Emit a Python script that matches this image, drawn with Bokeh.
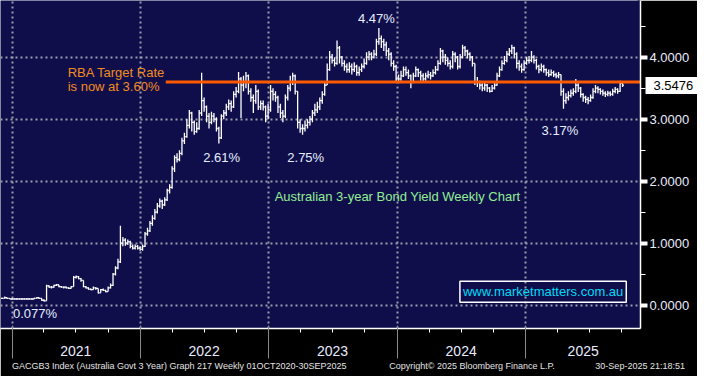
import pandas as pd
from bokeh.plotting import figure
from bokeh.models import (Range1d, FixedTicker, DatetimeAxis, LinearAxis, Grid, Label,
                          NumeralTickFormatter, ColumnDataSource, DatetimeTickFormatter,
                          CustomJSTickFormatter)
from bokeh.embed import file_html
from bokeh.resources import INLINE

# ---------------- data (weekly bars, GACGB3 Index) ----------------
first_week = "2020-12-04"
close = [
    0.11, 0.12, 0.11, 0.10, 0.10, 0.10, 0.10, 0.10, 0.10, 0.10,
    0.10, 0.10, 0.10, 0.11, 0.12, 0.11, 0.08, 0.07, 0.31, 0.29,
    0.29, 0.32, 0.33, 0.30, 0.29, 0.29, 0.28, 0.27, 0.30, 0.45,
    0.46, 0.43, 0.40, 0.30, 0.28, 0.26, 0.25, 0.28, 0.27, 0.20,
    0.25, 0.24, 0.22, 0.28, 0.32, 0.50, 0.60, 0.70, 1.00, 1.05,
    1.00, 1.02, 0.95, 0.92, 0.95, 0.92, 0.90, 0.95, 1.15, 1.20,
    1.32, 1.40, 1.50, 1.60, 1.68, 1.62, 1.70, 1.85, 1.90, 2.20,
    2.38, 2.35, 2.45, 2.65, 2.72, 2.90, 3.10, 2.95, 2.80, 2.85,
    3.10, 3.30, 3.20, 3.05, 2.95, 3.05, 3.00, 2.85, 2.70, 3.05,
    3.10, 3.20, 3.25, 3.20, 3.40, 3.45, 3.65, 3.55, 3.60, 3.70,
    3.45, 3.35, 3.30, 3.45, 3.20, 3.25, 3.20, 3.05, 3.15, 3.45,
    3.40, 3.35, 3.20, 3.10, 3.05, 3.35, 3.50, 3.60, 3.70, 3.45,
    2.95, 2.85, 2.85, 2.90, 2.95, 3.00, 3.10, 3.15, 3.20, 3.30,
    3.40, 3.55, 3.80, 4.00, 3.95, 3.90, 4.15, 4.00, 3.90, 3.85,
    3.80, 3.85, 3.80, 3.85, 3.75, 3.80, 3.85, 3.90, 4.00, 4.05,
    4.00, 4.05, 4.25, 4.30, 4.25, 4.20, 4.10, 4.05, 3.90, 3.85,
    3.65, 3.65, 3.70, 3.80, 3.75, 3.70, 3.60, 3.70, 3.80, 3.75,
    3.70, 3.65, 3.70, 3.72, 3.70, 3.75, 3.80, 3.90, 4.10, 4.00,
    3.95, 3.90, 3.85, 4.05, 4.00, 3.85, 4.00, 4.15, 4.10, 4.05,
    4.00, 3.90, 3.60, 3.60, 3.55, 3.50, 3.55, 3.50, 3.45, 3.50,
    3.55, 3.70, 3.80, 3.90, 3.95, 4.05, 4.10, 4.15, 4.05, 3.90,
    3.85, 3.80, 3.90, 3.95, 3.95, 4.00, 3.95, 3.85, 3.80, 3.85,
    3.80, 3.75, 3.72, 3.75, 3.72, 3.70, 3.72, 3.45, 3.30, 3.35,
    3.38, 3.42, 3.45, 3.55, 3.50, 3.40, 3.35, 3.32, 3.30, 3.35,
    3.45, 3.50, 3.48, 3.45, 3.42, 3.40, 3.42, 3.40, 3.45, 3.48,
    3.45, 3.58, 3.5476]
high = [
    0.12, 0.14, 0.12, 0.11, 0.11, 0.11, 0.11, 0.11, 0.11, 0.11,
    0.11, 0.11, 0.11, 0.12, 0.13, 0.12, 0.11, 0.09, 0.33, 0.32,
    0.31, 0.33, 0.34, 0.33, 0.31, 0.30, 0.30, 0.29, 0.31, 0.47,
    0.48, 0.47, 0.44, 0.40, 0.31, 0.29, 0.27, 0.30, 0.29, 0.27,
    0.26, 0.27, 0.25, 0.30, 0.35, 0.52, 0.63, 0.75, 1.28, 1.10,
    1.08, 1.06, 1.04, 0.98, 0.98, 0.97, 0.95, 0.98, 1.18, 1.25,
    1.36, 1.45, 1.55, 1.65, 1.72, 1.70, 1.74, 1.88, 1.95, 2.24,
    2.42, 2.45, 2.50, 2.70, 2.78, 3.00, 3.15, 3.12, 2.98, 2.95,
    3.15, 3.75, 3.35, 3.22, 3.10, 3.12, 3.10, 3.03, 2.88, 3.08,
    3.15, 3.25, 3.32, 3.30, 3.45, 3.52, 3.76, 3.68, 3.70, 3.76,
    3.72, 3.50, 3.40, 3.55, 3.48, 3.30, 3.30, 3.22, 3.25, 3.55,
    3.50, 3.45, 3.38, 3.25, 3.15, 3.40, 3.55, 3.70, 3.75, 3.72,
    3.45, 3.00, 2.92, 2.98, 3.00, 3.05, 3.15, 3.25, 3.28, 3.35,
    3.45, 3.60, 3.90, 4.10, 4.05, 4.00, 4.27, 4.18, 4.02, 3.95,
    3.90, 3.92, 3.90, 3.92, 3.88, 3.85, 3.90, 3.98, 4.08, 4.10,
    4.08, 4.12, 4.30, 4.47, 4.35, 4.30, 4.25, 4.15, 4.08, 3.95,
    3.88, 3.72, 3.78, 3.85, 3.85, 3.80, 3.72, 3.75, 3.85, 3.82,
    3.78, 3.74, 3.75, 3.78, 3.76, 3.80, 3.86, 3.95, 4.15, 4.12,
    4.05, 4.00, 3.95, 4.10, 4.08, 4.02, 4.05, 4.20, 4.18, 4.12,
    4.08, 4.02, 3.90, 3.68, 3.62, 3.58, 3.60, 3.57, 3.52, 3.55,
    3.60, 3.75, 3.85, 3.95, 4.02, 4.10, 4.15, 4.20, 4.17, 4.08,
    3.95, 3.90, 3.95, 4.00, 4.02, 4.10, 4.03, 3.97, 3.88, 3.90,
    3.88, 3.82, 3.80, 3.80, 3.78, 3.75, 3.76, 3.72, 3.50, 3.42,
    3.45, 3.48, 3.50, 3.65, 3.58, 3.52, 3.42, 3.38, 3.36, 3.40,
    3.50, 3.55, 3.53, 3.50, 3.48, 3.45, 3.46, 3.45, 3.49, 3.52,
    3.50, 3.62, 3.60]
low = [
    0.10, 0.11, 0.10, 0.10, 0.09, 0.09, 0.09, 0.09, 0.09, 0.09,
    0.09, 0.09, 0.09, 0.10, 0.11, 0.10, 0.07, 0.06, 0.07, 0.28,
    0.27, 0.28, 0.31, 0.29, 0.28, 0.27, 0.27, 0.26, 0.27, 0.30,
    0.43, 0.42, 0.38, 0.29, 0.27, 0.25, 0.24, 0.25, 0.25, 0.19,
    0.20, 0.23, 0.21, 0.22, 0.27, 0.31, 0.48, 0.58, 0.68, 0.95,
    0.96, 0.97, 0.92, 0.90, 0.90, 0.90, 0.88, 0.88, 0.94, 1.12,
    1.18, 1.28, 1.38, 1.48, 1.57, 1.55, 1.60, 1.68, 1.80, 1.88,
    2.15, 2.30, 2.32, 2.42, 2.60, 2.70, 2.85, 2.80, 2.75, 2.78,
    2.83, 3.05, 3.12, 2.95, 2.85, 2.92, 2.95, 2.80, 2.61, 2.68,
    3.00, 3.05, 3.15, 3.12, 3.18, 3.35, 3.42, 3.02, 3.45, 3.50,
    3.40, 3.28, 3.10, 3.25, 3.15, 3.15, 3.14, 2.95, 3.00, 3.12,
    3.30, 3.28, 3.10, 3.02, 2.95, 3.02, 3.30, 3.45, 3.55, 3.40,
    2.85, 2.78, 2.75, 2.80, 2.85, 2.90, 2.95, 3.05, 3.10, 3.15,
    3.25, 3.38, 3.55, 3.78, 3.90, 3.85, 3.88, 3.90, 3.85, 3.78,
    3.75, 3.75, 3.72, 3.76, 3.70, 3.70, 3.76, 3.82, 3.88, 3.95,
    3.95, 3.98, 4.02, 4.20, 4.15, 4.10, 4.02, 3.95, 3.85, 3.78,
    3.60, 3.58, 3.62, 3.68, 3.70, 3.65, 3.50, 3.58, 3.68, 3.68,
    3.62, 3.60, 3.62, 3.66, 3.64, 3.68, 3.72, 3.78, 3.88, 3.92,
    3.88, 3.85, 3.80, 3.82, 3.92, 3.80, 3.82, 3.98, 4.02, 3.98,
    3.94, 3.85, 3.55, 3.52, 3.48, 3.45, 3.46, 3.44, 3.43, 3.44,
    3.48, 3.54, 3.68, 3.78, 3.88, 3.92, 4.02, 4.05, 3.98, 3.82,
    3.78, 3.75, 3.78, 3.88, 3.90, 3.92, 3.90, 3.80, 3.74, 3.77,
    3.75, 3.70, 3.68, 3.70, 3.68, 3.66, 3.66, 3.38, 3.17, 3.25,
    3.30, 3.35, 3.38, 3.42, 3.44, 3.35, 3.28, 3.26, 3.24, 3.28,
    3.33, 3.42, 3.42, 3.40, 3.38, 3.36, 3.37, 3.37, 3.38, 3.42,
    3.41, 3.44, 3.52]

rba_rate = 3.60
rba_line_start = "2022-03-14"
years = [2021, 2022, 2023, 2024, 2025]
y_ticks = [0, 1, 2, 3, 4]
y_minor = [0.5, 1.5, 2.5, 3.5, 4.5]
last_price = close[-1]
view_start, view_end = "2020-11-29", "2025-11-23"
footer_texts = ["GACGB3 Index (Australia Govt 3 Year) Graph 217  Weekly 01OCT2020-30SEP2025",
                "Copyright\u00a9 2025 Bloomberg Finance L.P.",
                "30-Sep-2025 21:18:51"]
footer_dates = ["2022-04-25", "2024-08-01", "2025-11-22"]

# ---------------- helpers ----------------
def ms(d):
    return pd.Timestamp(d).value / 1e6

NAVY = "#0f0e4b"
FONT = "Liberation Sans"
Y0, Y1 = -0.376, 4.915
RIGHT_W = 57      # width of the price scale strip
BOTTOM_H = 48     # height of the black footer strip

dates = pd.date_range(first_week, periods=len(close), freq="7D")
opens = [close[0]] + close[:-1]
half = pd.Timedelta(days=3.5)
src = ColumnDataSource(dict(date=dates, left=dates - half, right=dates + half,
                            open=opens, high=high, low=low, close=close))

p = figure(width=697, height=376, x_axis_type="datetime",
           x_range=Range1d(ms(view_start), ms(view_end)),
           y_range=Range1d(Y0, Y1),
           x_axis_location=None, y_axis_location=None,
           toolbar_location=None, output_backend="svg",
           min_border_left=0, min_border_top=0, min_border_right=RIGHT_W,
           min_border_bottom=BOTTOM_H,
           background_fill_color=NAVY, border_fill_color="black", outline_line_color=None)
p.grid.visible = False

year_bounds = [ms(f"{y}-01-01") for y in years]
quarters = [ms(f"{y}-{m:02d}-01") for y in years for m in (4, 7, 10)]
mid_years = [ms(f"{y}-07-01") for y in years[:-1]] + [(ms(f"{years[-1]}-01-01") + ms(view_end)) / 2]

grid_kw = dict(grid_line_color="#9c9cab", grid_line_dash="2 3", grid_line_width=2)
p.add_layout(Grid(dimension=0, ticker=FixedTicker(ticks=year_bounds), **grid_kw))
p.add_layout(Grid(dimension=1, ticker=FixedTicker(ticks=y_ticks), **grid_kw))

# bars
bar_kw = dict(source=src, line_color="white", line_width=1.3)
p.segment(x0="date", y0="low", x1="date", y1="high", **bar_kw)
p.segment(x0="left", y0="open", x1="date", y1="open", **bar_kw)
p.segment(x0="date", y0="close", x1="right", y1="close", **bar_kw)

# RBA target line
p.segment(x0=[ms(rba_line_start)], y0=[rba_rate], x1=[ms(view_end)], y1=[rba_rate],
          line_color="#ff5a00", line_width=3)

# axes used only for their ticks: no visible labels, no label space
hidden = dict(axis_line_color=None, formatter=CustomJSTickFormatter(code="return ''"),
              major_label_text_color=None, major_label_text_font_size="1px",
              major_label_standoff=0, minor_tick_in=0, minor_tick_out=0, minor_tick_line_color=None)

# ---------------- right price scale ----------------
ry = LinearAxis(ticker=FixedTicker(ticks=y_ticks, minor_ticks=y_minor),
                formatter=NumeralTickFormatter(format="0.0000"),
                axis_line_color="white", axis_line_width=1.5,
                major_tick_in=0, major_tick_out=7, major_tick_line_color="white", major_tick_line_width=4,
                minor_tick_in=0, minor_tick_out=5, minor_tick_line_color="white",
                major_label_text_color="#e8ecff", major_label_text_font=FONT,
                major_label_text_font_size="13px", major_label_standoff=2)
p.add_layout(ry, "right")
# last-price tag: a wide white tick reaching back to the frame, with the price on it
E = 7 + 2 + 40   # approx. extent of the main price scale
price = LinearAxis(ticker=FixedTicker(ticks=[last_price], minor_ticks=[]),
                   formatter=NumeralTickFormatter(format="0.0000"),
                   axis_line_color=None,
                   major_tick_in=E - 2, major_tick_out=RIGHT_W - E,
                   major_tick_line_color="white", major_tick_line_width=17,
                   major_label_text_color="black", major_label_text_font=FONT,
                   major_label_text_font_size="13px", major_label_standoff=10 - RIGHT_W)
p.add_layout(price, "right")
# navy backdrop of the price strip: outermost, painted first (underlay), reaching back to the frame
bg = LinearAxis(ticker=FixedTicker(ticks=[(Y0 + Y1) / 2], minor_ticks=[]), level="underlay",
                major_tick_in=RIGHT_W + 2, major_tick_out=0,
                major_tick_line_color=NAVY, major_tick_line_width=330, **hidden)
p.add_layout(bg, "right")

# ---------------- bottom ----------------
yr_fmt = DatetimeTickFormatter(years="%Y", months="%Y", days="%Y", hours="%Y", minutes="%Y",
                               seconds="%Y", milliseconds="%Y", microseconds="%Y", hourmin="%Y",
                               minsec="%Y")
LAB_STANDOFF = 13
xa = DatetimeAxis(ticker=FixedTicker(ticks=mid_years, minor_ticks=quarters), formatter=yr_fmt,
                  axis_line_color="white", axis_line_width=1.5,
                  major_tick_in=0, major_tick_out=0,
                  minor_tick_in=0, minor_tick_out=4, minor_tick_line_color="white",
                  major_label_text_color="#e8ecff", major_label_text_font=FONT,
                  major_label_text_font_size="14px", major_label_standoff=LAB_STANDOFF)
p.add_layout(xa, "below")
# year separators: ticks reaching back up to the frame edge
sep = DatetimeAxis(ticker=FixedTicker(ticks=year_bounds, minor_ticks=[]),
                   major_tick_in=LAB_STANDOFF + 20, major_tick_out=0,
                   major_tick_line_color="#8a8a8a", major_tick_line_width=1, **hidden)
p.add_layout(sep, "below")
foot = DatetimeAxis(ticker=FixedTicker(ticks=[ms(d) for d in footer_dates], minor_ticks=[]),
                    formatter=CustomJSTickFormatter(args=dict(labels=footer_texts),
                                                    code="return labels[index]"),
                    axis_line_color=None, major_tick_in=0, major_tick_out=0,
                    major_label_text_color="#e4e4e4", major_label_text_font=FONT,
                    major_label_text_font_size="9px", major_label_standoff=2)
p.add_layout(foot, "below")

# ---------------- annotations ----------------
def lab(text, x, y, color, size="13px", align="center", **kw):
    p.add_layout(Label(x=ms(x), y=y, text=text, text_color=color, text_font=FONT,
                       text_font_size=size, text_align=align, text_baseline="middle", **kw))

ORANGE = "#f28c1e"
lab("RBA Target Rate", "2021-06-08", 3.76, ORANGE, align="left")
lab("is now at 3.60%", "2021-06-08", 3.52, ORANGE, align="left")
lab("4.47%", "2023-11-03", 4.63, "#e6eeff")
lab("2.61%", "2022-08-20", 2.39, "#e6eeff")
lab("2.75%", "2023-04-16", 2.39, "#e6eeff")
lab("3.17%", "2025-04-08", 2.81, "#e6eeff")
lab("0.077%", "2021-03-07", -0.13, "#e6eeff")
lab("Australian 3-year Bond Yield Weekly Chart", "2024-01-02", 1.76, "#92ee92")
lab("www.marketmatters.com.au", "2025-02-19", 0.215, "#00dcf5",
    border_line_color="white", border_line_width=1.5, padding=3)

open("out.html", "w").write(file_html(p, INLINE))
